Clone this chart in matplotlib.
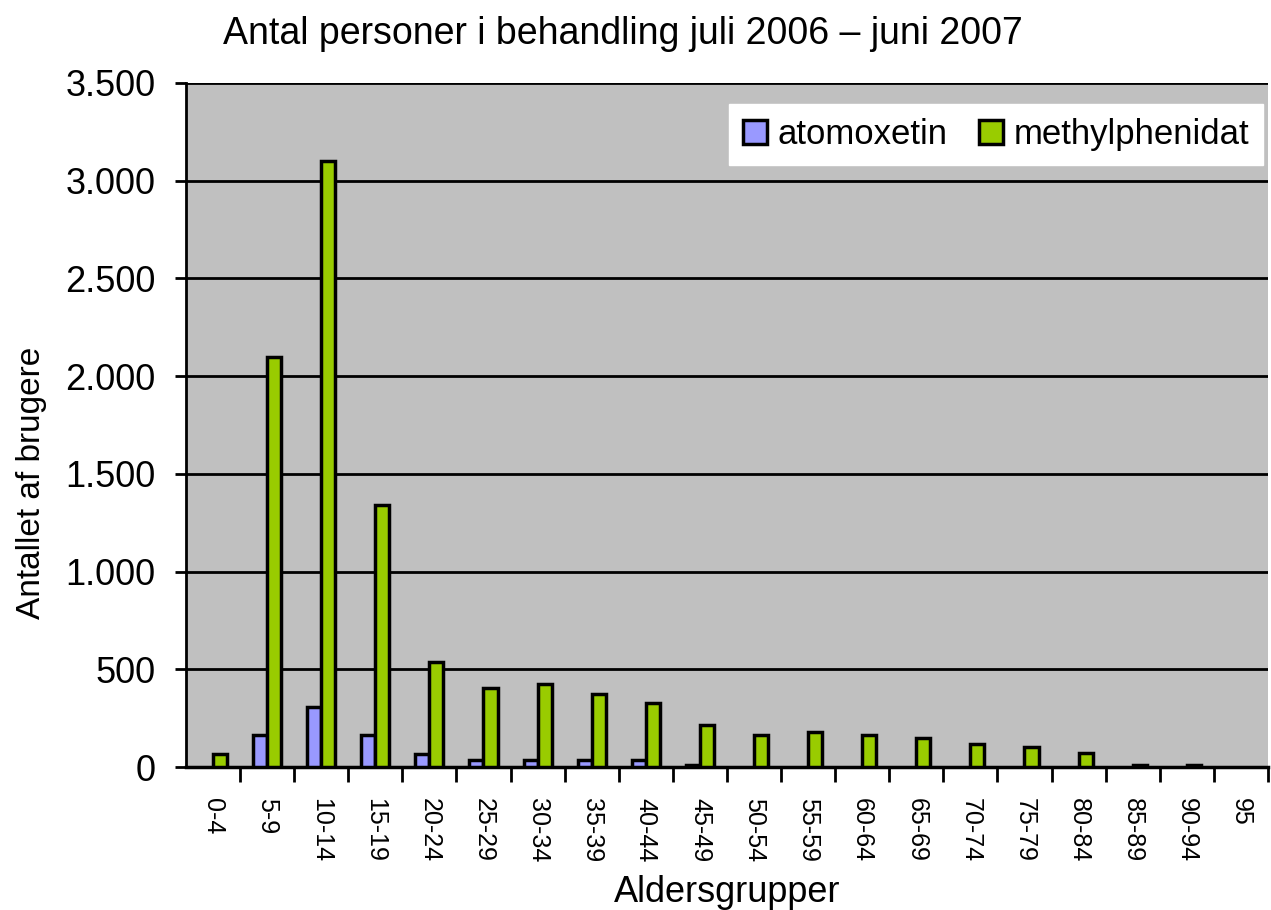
import numpy as np
import matplotlib
matplotlib.use("Agg")
import matplotlib.pyplot as plt
from matplotlib.ticker import FuncFormatter, MultipleLocator

plt.rcParams['font.family'] = ['Liberation Sans', 'DejaVu Sans']

groups = ["0-4", "5-9", "10-14", "15-19", "20-24", "25-29", "30-34", "35-39",
          "40-44", "45-49", "50-54", "55-59", "60-64", "65-69", "70-74",
          "75-79", "80-84", "85-89", "90-94", "95"]
atomoxetin = [0, 165, 310, 165, 65, 35, 35, 35, 35, 12,
              0, 0, 0, 0, 0, 0, 0, 0, 0, 0]
methylphenidat = [65, 2100, 3100, 1340, 540, 405, 425, 375, 330, 215,
                  165, 180, 165, 150, 120, 105, 70, 12, 12, 0]

fig = plt.figure(figsize=(12.71, 9.10), dpi=100)
ax = fig.add_axes([0.1463, 0.157, 0.8513, 0.7518])
ax.set_facecolor("#c0c0c0")

x = np.arange(len(groups))
w = 0.26
b1 = ax.bar(x - w / 2, atomoxetin, w, color="#9999ff", edgecolor="black",
            linewidth=2.5, label="atomoxetin", zorder=3)
b2 = ax.bar(x + w / 2, methylphenidat, w, color="#99cc00", edgecolor="black",
            linewidth=2.5, label="methylphenidat", zorder=3)

ax.set_xlim(-0.5, len(groups) - 0.5)
ax.set_ylim(0, 3500)
ax.yaxis.set_major_locator(MultipleLocator(500))
ax.yaxis.set_major_formatter(FuncFormatter(lambda v, p: f"{int(v):,}".replace(",", ".")))
ax.grid(axis="y", color="black", linewidth=2, zorder=1)

ax.set_xticks(x + 0.5, minor=False)
ax.set_xticklabels([])
ax.set_xticks(x, minor=True)
ax.set_xticklabels(groups, minor=True, rotation=270, fontsize=18)
ax.tick_params(axis="x", which="major", length=11, width=2, direction="out")
ax.tick_params(axis="x", which="minor", length=0, pad=22)
ax.tick_params(axis="y", length=8, width=2, labelsize=26, pad=14)

for s in ["top", "right"]:
    ax.spines[s].set_visible(False)
ax.spines["left"].set_linewidth(2)
ax.spines["bottom"].set_linewidth(2.5)

ax.set_xlabel("Aldersgrupper", fontsize=26)
ax.xaxis.set_label_coords(0.5, -0.158)
ax.set_ylabel("Antallet af brugere", fontsize=24)
ax.yaxis.set_label_coords(-0.128, 0.415)
fig.text(0.49, 0.963, "Antal personer i behandling juli 2006 \u2013 juni 2007",
         ha="center", va="center", fontsize=27)

leg = ax.legend(loc="upper right", bbox_to_anchor=(0.9954, 0.9693), ncol=2,
                fontsize=25, frameon=True, fancybox=False, edgecolor="white",
                framealpha=1, handlelength=0.7, handleheight=0.7,
                handletextpad=0.3, columnspacing=0.9, borderaxespad=0,
                borderpad=0.4)
for h in leg.legend_handles:
    h.set_linewidth(2.5)

# empty bars are not drawn at all (after the legend took its handles)
for p in list(b1) + list(b2):
    if p.get_height() == 0:
        p.set_visible(False)

fig.savefig("out.png", dpi=100)
